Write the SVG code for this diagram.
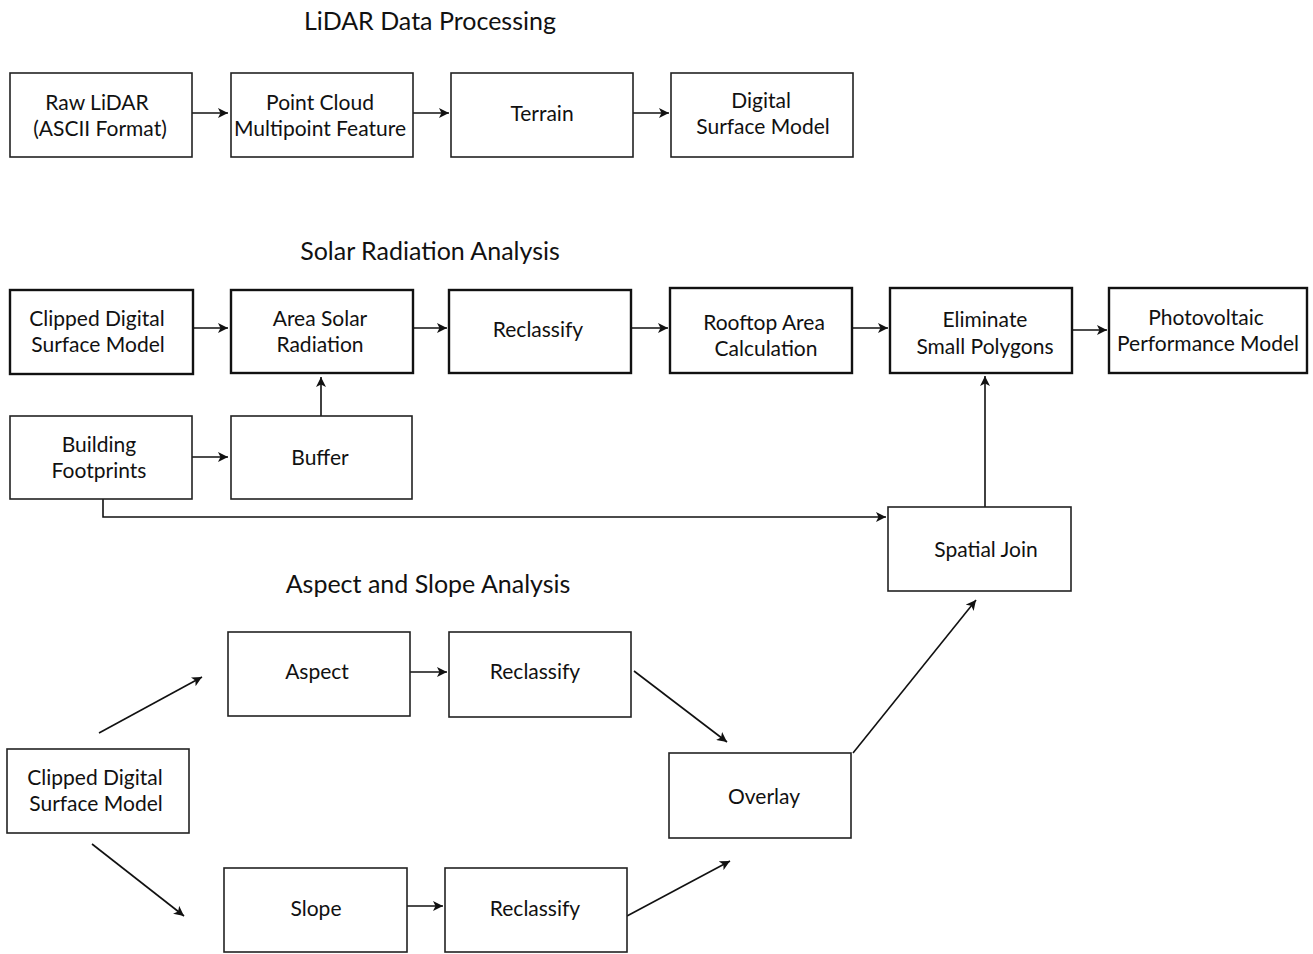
<svg xmlns="http://www.w3.org/2000/svg" width="1313" height="954" viewBox="0 0 1313 954">
<style>
.b{fill:#fff;stroke:#222;stroke-width:1.6}
.bt{fill:#fff;stroke:#111;stroke-width:2.4}
text{font-family:Lato,"Liberation Sans",sans-serif;font-size:21px;fill:#111;text-anchor:middle;dominant-baseline:central}
.t{font-size:25px}
.c{fill:none;stroke:#111;stroke-width:1.6}
</style>
<defs>
<marker id="a" viewBox="0 0 10 10" refX="10" refY="5" markerWidth="10" markerHeight="10" markerUnits="userSpaceOnUse" orient="auto">
<path d="M0,0 L10,5 L0,10 L2.5,5 Z" fill="#111"/>
</marker>
</defs>
<rect width="1313" height="954" fill="#fff"/>
<text class="t" x="430" y="20">LiDAR Data Processing</text>
<text class="t" x="430" y="250">Solar Radiation Analysis</text>
<text class="t" x="428" y="583">Aspect and Slope Analysis</text>

<g id="connectors">
<line class="c" x1="192" y1="113" x2="228" y2="113" marker-end="url(#a)"/>
<line class="c" x1="413" y1="113" x2="449" y2="113" marker-end="url(#a)"/>
<line class="c" x1="633" y1="113" x2="669" y2="113" marker-end="url(#a)"/>
<line class="c" x1="193" y1="328" x2="228" y2="328" marker-end="url(#a)" stroke-width="2"/>
<line class="c" x1="413" y1="328" x2="447" y2="328" marker-end="url(#a)" stroke-width="2"/>
<line class="c" x1="631" y1="328" x2="668" y2="328" marker-end="url(#a)" stroke-width="2"/>
<line class="c" x1="852" y1="328" x2="888" y2="328" marker-end="url(#a)" stroke-width="2"/>
<line class="c" x1="1072" y1="330" x2="1107" y2="330" marker-end="url(#a)" stroke-width="2"/>
<line class="c" x1="192" y1="457" x2="228" y2="457" marker-end="url(#a)"/>
<line class="c" x1="321" y1="416" x2="321" y2="377" marker-end="url(#a)"/>
<polyline class="c" points="103,499 103,517 886,517" marker-end="url(#a)"/>
<line class="c" x1="985" y1="507" x2="985" y2="376" marker-end="url(#a)"/>
<line class="c" x1="410" y1="672" x2="447" y2="672" marker-end="url(#a)"/>
<line class="c" x1="99" y1="733" x2="202" y2="677" marker-end="url(#a)"/>
<line class="c" x1="92" y1="844" x2="184" y2="916" marker-end="url(#a)"/>
<line class="c" x1="407" y1="906" x2="443" y2="906" marker-end="url(#a)"/>
<line class="c" x1="634" y1="671" x2="727" y2="742" marker-end="url(#a)"/>
<line class="c" x1="627" y1="916" x2="730" y2="861" marker-end="url(#a)"/>
<line class="c" x1="853" y1="753" x2="976" y2="600" marker-end="url(#a)"/>
</g>

<g id="raw-lidar"><rect class="b" x="10" y="73" width="182" height="84"/><text x="97" y="101">Raw LiDAR</text><text x="100" y="127">(ASCII Format)</text></g>
<g id="point-cloud"><rect class="b" x="231" y="73" width="182" height="84"/><text x="320" y="101">Point Cloud</text><text x="320" y="127">Multipoint Feature</text></g>
<g id="terrain"><rect class="b" x="451" y="73" width="182" height="84"/><text x="542" y="112">Terrain</text></g>
<g id="dsm"><rect class="b" x="671" y="73" width="182" height="84"/><text x="761" y="99">Digital</text><text x="763" y="125">Surface Model</text></g>

<g id="clipped-dsm-1"><rect class="bt" x="10" y="290" width="183" height="84"/><text x="97" y="317">Clipped Digital</text><text x="98" y="343">Surface Model</text></g>
<g id="area-solar"><rect class="bt" x="231" y="290" width="182" height="83"/><text x="320" y="317">Area Solar</text><text x="320" y="343">Radiation</text></g>
<g id="reclassify-1"><rect class="bt" x="449" y="290" width="182" height="83"/><text x="538" y="328">Reclassify</text></g>
<g id="rooftop"><rect class="bt" x="670" y="288" width="182" height="85"/><text x="764" y="321">Rooftop Area</text><text x="766" y="347">Calculation</text></g>
<g id="eliminate"><rect class="bt" x="890" y="288" width="182" height="85"/><text x="985" y="318">Eliminate</text><text x="985" y="345">Small Polygons</text></g>
<g id="pv"><rect class="bt" x="1109" y="288" width="198" height="85"/><text x="1206" y="316">Photovoltaic</text><text x="1208" y="342">Performance Model</text></g>

<g id="footprints"><rect class="b" x="10" y="416" width="182" height="83"/><text x="99" y="443">Building</text><text x="99" y="469">Footprints</text></g>
<g id="buffer"><rect class="b" x="231" y="416" width="181" height="83"/><text x="320" y="456">Buffer</text></g>
<g id="spatial-join"><rect class="b" x="888" y="507" width="183" height="84"/><text x="986" y="548">Spatial Join</text></g>

<g id="aspect"><rect class="b" x="228" y="632" width="182" height="84"/><text x="317" y="670">Aspect</text></g>
<g id="reclassify-2"><rect class="b" x="449" y="632" width="182" height="85"/><text x="535" y="670">Reclassify</text></g>
<g id="clipped-dsm-2"><rect class="b" x="7" y="749" width="182" height="84"/><text x="95" y="776">Clipped Digital</text><text x="96" y="802">Surface Model</text></g>
<g id="overlay"><rect class="b" x="669" y="753" width="182" height="85"/><text x="764" y="795">Overlay</text></g>
<g id="slope"><rect class="b" x="224" y="868" width="183" height="84"/><text x="316" y="907">Slope</text></g>
<g id="reclassify-3"><rect class="b" x="445" y="868" width="182" height="84"/><text x="535" y="907">Reclassify</text></g>
</svg>
